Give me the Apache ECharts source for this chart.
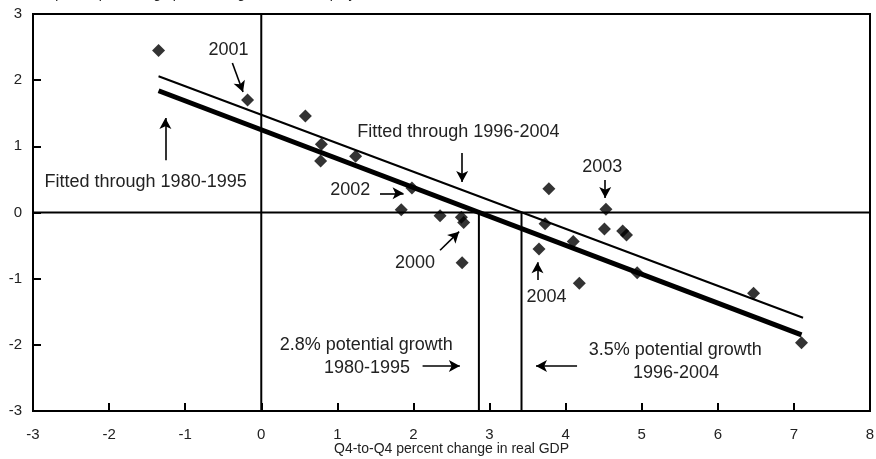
<!DOCTYPE html>
<html><head><meta charset="utf-8">
<script src="https://cdn.jsdelivr.net/npm/echarts@6/dist/echarts.min.js"></script>
<style>html,body{margin:0;padding:0;background:#fff}#c{width:876px;height:459px}</style>
</head><body><div id="c"></div>
<script>
// Axis ranges
const xRange = [-3, 8];
const yRange = [-3, 3];

// Scatter points (x: Q4-to-Q4 % change real GDP, y: change in unemployment rate)
const scatterX = [-1.35, -0.18, 0.58, 0.79, 0.78, 1.24, 1.98, 1.84, 2.35, 2.63, 2.66, 2.64, 3.78, 3.73, 3.65, 4.10, 4.18, 4.53, 4.51, 4.75, 4.80, 4.94, 6.47, 7.10];
const scatterY = [2.45, 1.70, 1.46, 1.03, 0.78, 0.85, 0.37, 0.04, -0.05, -0.07, -0.15, -0.76, 0.36, -0.17, -0.55, -0.44, -1.07, 0.05, -0.25, -0.28, -0.34, -0.91, -1.22, -1.97];

// Fitted lines (end points)
const fit8095X = [-1.35, 7.10];
const fit8095Y = [1.84, -1.85];
const fit9604X = [-1.35, 7.12];
const fit9604Y = [2.06, -1.59];

// Potential growth vertical lines
const potentialX = [2.86, 3.42];

// Annotation texts (data coords of centre)
const annLabels = ['2001', 'Fitted through 1980-1995', 'Fitted through 1996-2004', '2002', '2000', '2003', '2004', '2.8% potential growth', '1980-1995', '3.5% potential growth', '1996-2004'];
const annX = [-0.43, -1.52, 2.59, 1.17, 2.02, 4.48, 3.75, 1.38, 1.39, 5.44, 5.45];
const annY = [2.45, 0.46, 1.22, 0.34, -0.76, 0.68, -1.28, -2.00, -2.35, -2.08, -2.42];

// Annotation arrows (from -> to, data coords)
const arrowX1 = [-0.38, -1.26, 2.64, 1.56, 2.35, 4.52, 3.63, 2.12, 4.15];
const arrowY1 = [2.26, 0.79, 0.90, 0.29, -0.57, 0.49, -1.02, -2.32, -2.32];
const arrowX2 = [-0.24, -1.26, 2.64, 1.87, 2.60, 4.52, 3.63, 2.61, 3.61];
const arrowY2 = [1.82, 1.43, 0.46, 0.29, -0.29, 0.22, -0.75, -2.32, -2.32];

const titleText = 'Four-quarter percentage point change in the unemployment rate';
const xAxisName = 'Q4-to-Q4 percent change in real GDP';

const chart = echarts.init(document.getElementById('c'));
const FONT = 'Arial, "Liberation Sans", sans-serif';
const TXT = '#222';

const seriesList = [
  { type: 'line', data: [[0, yRange[0]], [0, yRange[1]]], symbol: 'none', lineStyle: { color: '#000', width: 2 }, silent: true, z: 2 },
  { type: 'line', data: [[xRange[0], 0], [xRange[1], 0]], symbol: 'none', lineStyle: { color: '#000', width: 2 }, silent: true, z: 2 }
];
potentialX.forEach(px => seriesList.push({ type: 'line', data: [[px, 0], [px, yRange[0]]], symbol: 'none', lineStyle: { color: '#000', width: 2 }, silent: true, z: 2 }));
seriesList.push({ type: 'line', data: fit9604X.map((x, i) => [x, fit9604Y[i]]), symbol: 'none', lineStyle: { color: '#000', width: 2 }, z: 3 });
seriesList.push({ type: 'line', data: fit8095X.map((x, i) => [x, fit8095Y[i]]), symbol: 'none', lineStyle: { color: '#000', width: 5 }, z: 3 });
seriesList.push({
  type: 'scatter', data: scatterX.map((x, i) => [x, scatterY[i]]), symbol: 'diamond', symbolSize: [13, 13],
  itemStyle: { color: '#000' }, z: 5
});
seriesList.push({
  type: 'scatter', data: [], z: 4,
  markLine: {
    silent: true, animation: false, symbol: ['none', 'arrow'], symbolSize: [9, 11],
    lineStyle: { color: '#000', width: 1.6, type: 'solid' }, label: { show: false },
    data: arrowX1.map((x, i) => [{ coord: [x, arrowY1[i]] }, { coord: [arrowX2[i], arrowY2[i]] }])
  }
});

chart.setOption({
  animation: false,
  backgroundColor: '#fff',
  grid: { left: 33, right: 6, top: 14, bottom: 48, outerBoundsMode: 'none', containLabel: false, show: true, borderColor: '#000', borderWidth: 2, backgroundColor: 'transparent' },
  xAxis: {
    type: 'value', min: xRange[0], max: xRange[1], interval: 1,
    name: xAxisName, nameLocation: 'middle', nameGap: 31, nameMoveOverlap: false,
    nameTextStyle: { fontSize: 14, color: TXT, fontFamily: FONT },
    axisLine: { show: true, onZero: false, lineStyle: { color: '#000', width: 2 } },
    axisTick: { show: true, inside: true, length: 8, lineStyle: { color: '#000', width: 2 } },
    axisLabel: { fontSize: 15, color: TXT, fontFamily: FONT, margin: 16 },
    splitLine: { show: false }
  },
  yAxis: {
    type: 'value', min: yRange[0], max: yRange[1], interval: 1,
    axisLine: { show: true, onZero: false, lineStyle: { color: '#000', width: 2 } },
    axisTick: { show: true, inside: true, length: 8, lineStyle: { color: '#000', width: 2 } },
    axisLabel: { fontSize: 15, color: TXT, fontFamily: FONT, margin: 11 },
    splitLine: { show: false }
  },
  series: seriesList
});

const graphics = [{
  type: 'text', left: 17, top: -13, silent: true,
  style: { text: titleText, fontSize: 14, fontFamily: FONT, fill: TXT }
}];
annLabels.forEach((t, i) => {
  const p = chart.convertToPixel({ gridIndex: 0 }, [annX[i], annY[i]]);
  graphics.push({
    type: 'text', x: p[0], y: p[1], silent: true, z: 10,
    style: { text: t, fontSize: 18, fontFamily: FONT, fill: TXT, align: 'center', verticalAlign: 'middle' }
  });
});
chart.setOption({ graphic: graphics });
</script>
</body></html>
